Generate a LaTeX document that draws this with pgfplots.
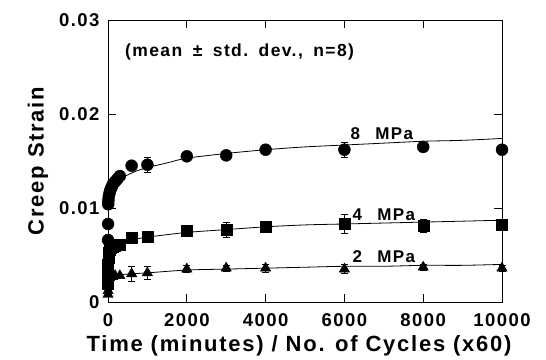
\documentclass[border=0pt]{standalone}
\usepackage{fontspec}
\setmainfont[LetterSpace=8]{Liberation Sans}
\usepackage{pgfplots}
\pgfplotsset{compat=1.18}

\pgfplotstableread{
t y e
1 0.0066 0
2 0.0083 0
5 0.0104 0.0003
10 0.0108 0
20 0.0112 0
40 0.0116 0
60 0.0119 0
90 0.0122 0
120 0.0125 0
180 0.0128 0
240 0.0131 0
300 0.0134 0
600 0.0145 0.0003
1000 0.0146 0.0008
2000 0.0155 0.0003
3000 0.0156 0.0004
4000 0.0162 0.0003
6000 0.0162 0.0008
8000 0.0165 0.0003
10000 0.0162 0.0004
}\eightdata

\pgfplotstableread{
t y e
1 0.0020 0
2 0.0030 0
5 0.0040 0
10 0.0047 0
20 0.0052 0
40 0.0056 0
60 0.0058 0
120 0.0059 0
180 0.0060 0
300 0.0061 0
600 0.0068 0.0003
1000 0.0070 0.0003
2000 0.0076 0.0003
3000 0.0077 0.0008
4000 0.0080 0.0003
6000 0.0083 0.0010
8000 0.0081 0.0007
10000 0.0082 0.0003
}\fourdata

\pgfplotstableread{
t y e
1 0.0008 0
2 0.0012 0
5 0.0017 0
10 0.0021 0
20 0.0024 0
40 0.0026 0
60 0.0027 0
120 0.0027 0
180 0.0028 0
300 0.0028 0
600 0.0030 0.0008
1000 0.0031 0.0007
2000 0.0035 0.0004
3000 0.0036 0.0003
4000 0.0036 0.0004
6000 0.0035 0.0005
8000 0.0037 0.0003
10000 0.0036 0.0003
}\twodata

\begin{document}
\begin{tikzpicture}[x=1pt,y=1pt]
\useasboundingbox (0,0) rectangle (546,359);
\begin{axis}[
  at={(108pt,57pt)}, anchor=south west,
  scale only axis, width=394pt, height=282pt,
  xmin=0, xmax=10000, ymin=0, ymax=0.03,
  scaled ticks=false,
  xtick={0,2000,4000,6000,8000,10000},
  xticklabels={0,2000,4000,6000,8000,10000},
  ytick={0,0.01,0.02,0.03},
  yticklabels={0,0.01,0.02,0.03},
  tick align=inside, tick pos=both,
  major tick length=8pt,
  tick style={black, line width=0.8pt},
  axis line style={line width=0.8pt},
  ticklabel style={font=\bfseries\fontsize{18.5}{20}\selectfont},
  xticklabel style={anchor=base, yshift=-24pt},
  yticklabel style={xshift=-5pt},
  xlabel={Time (minutes) / No. of Cycles (x60)},
  ylabel={Creep Strain},
  label style={font=\bfseries\fontsize{22}{24}\selectfont},
  xlabel style={at={(axis description cs:0.485,-0.156)}, anchor=center},
  ylabel style={at={(axis description cs:-0.178,0.5)}, anchor=center},
  clip=false,
  error bars/error bar style={line width=0.8pt},
  error bars/error mark options={rotate=90, mark size=3.5pt, line width=0.8pt},
]
% fitted curves
\addplot[black, line width=0.8pt, smooth] coordinates {
(0,0.0098)(10,0.0104)(30,0.0110)(60,0.0115)(100,0.0119)(200,0.0126)(400,0.0133)(700,0.0139)(1000,0.0143)(1500,0.0148)(2000,0.0153)(3000,0.0158)(4000,0.0162)(5000,0.0165)(6000,0.0167)(7000,0.0169)(8000,0.0171)(9000,0.0172)(10000,0.0174)};
\addplot[black, line width=0.8pt, smooth] coordinates {
(0,0.0045)(20,0.0055)(60,0.0058)(150,0.0060)(300,0.0062)(600,0.0066)(1000,0.0069)(2000,0.0074)(3000,0.0077)(4000,0.0080)(5000,0.0082)(6000,0.0083)(7000,0.0084)(8000,0.0085)(9000,0.0086)(10000,0.0087)};
\addplot[black, line width=0.8pt, smooth] coordinates {
(0,0.0010)(10,0.0020)(30,0.0024)(60,0.0026)(150,0.0028)(300,0.0029)(600,0.0030)(1000,0.0031)(2000,0.0034)(3000,0.0035)(4000,0.0036)(5000,0.0037)(6000,0.0038)(7000,0.0038)(8000,0.0039)(9000,0.0039)(10000,0.0040)};
% data
\addplot[only marks, mark=*, mark size=6pt, black,
  error bars/.cd, y dir=both, y explicit]
  table[x=t, y=y, y error=e] {\eightdata};
\addplot[only marks, mark=square*, mark size=5.5pt, black,
  error bars/.cd, y dir=both, y explicit]
  table[x=t, y=y, y error=e] {\fourdata};
\addplot[only marks, mark=triangle*, mark size=6pt, black,
  error bars/.cd, y dir=both, y explicit]
  table[x=t, y=y, y error=e] {\twodata};
% annotations
\node[font=\bfseries\fontsize{17.5}{19}\selectfont, anchor=west, inner sep=0pt] at (axis cs:430,0.0266) {(mean\hspace{0.6em}±\hspace{0.6em}std.\hspace{0.6em}dev.,\hspace{0.6em}n=8)};
\node[font=\bfseries\fontsize{17}{19}\selectfont] at (axis cs:6950,0.0179) {8\hspace{0.9em}MPa};
\node[font=\bfseries\fontsize{17}{19}\selectfont] at (axis cs:7000,0.0093) {4\hspace{0.9em}MPa};
\node[font=\bfseries\fontsize{17}{19}\selectfont] at (axis cs:7000,0.0048) {2\hspace{0.9em}MPa};
\end{axis}
\end{tikzpicture}
\end{document}
